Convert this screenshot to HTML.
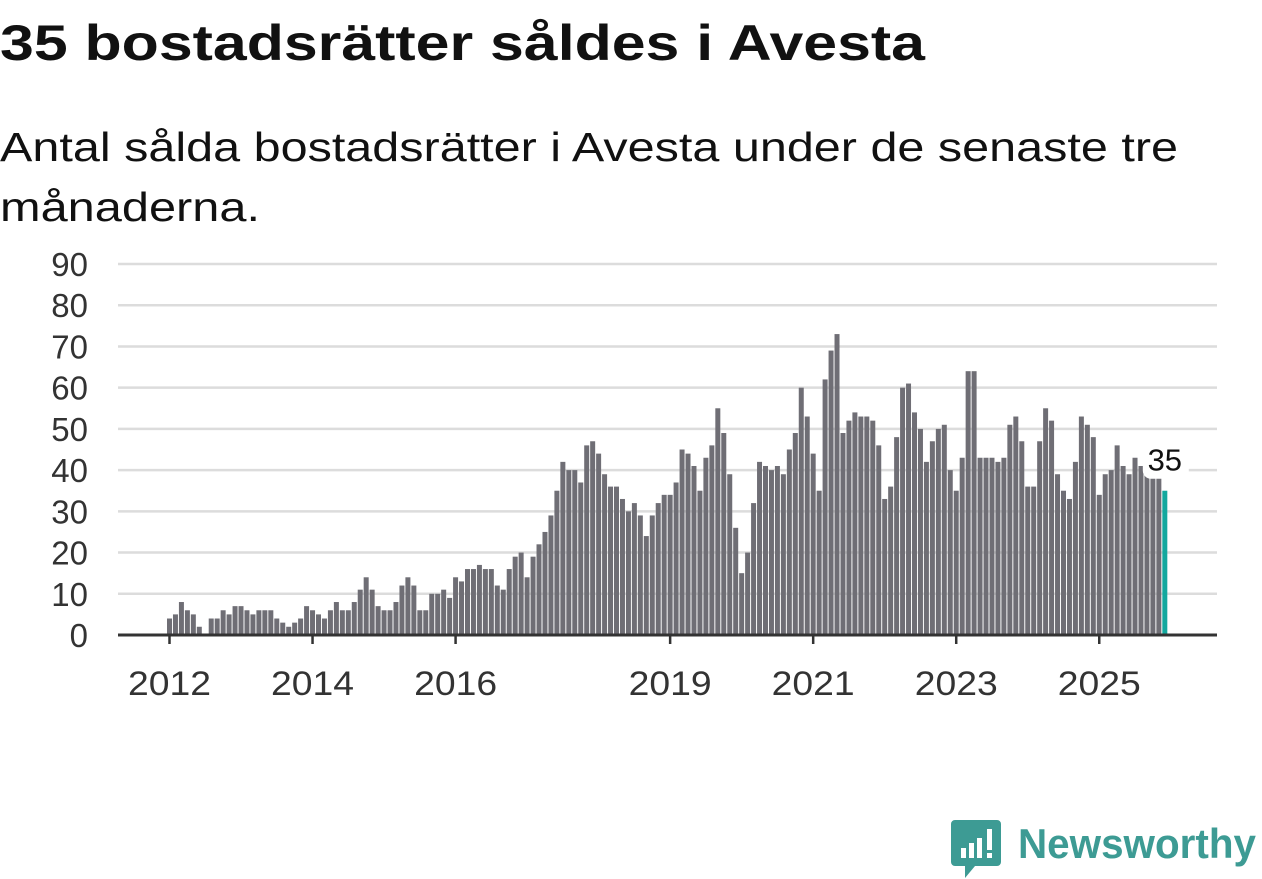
<!DOCTYPE html>
<html><head><meta charset="utf-8"><style>
html,body{margin:0;padding:0;background:#fff;}
svg{display:block;font-family:"Liberation Sans",sans-serif;}
</style></head><body>
<svg id="chart" width="1262" height="879" viewBox="0 0 1262 879">
<text x="0" y="60" font-size="50" font-weight="bold" fill="#111" textLength="925" lengthAdjust="spacingAndGlyphs">35 bostadsrätter såldes i Avesta</text>
<text x="0" y="161" font-size="41" fill="#111" textLength="1178" lengthAdjust="spacingAndGlyphs">Antal sålda bostadsrätter i Avesta under de senaste tre</text>
<text x="0" y="221" font-size="41" fill="#111" textLength="260" lengthAdjust="spacingAndGlyphs">månaderna.</text>
<g id="grid"></g>
<g id="bars"></g>
<g id="axis"></g>
<g>
<path d="M955 820 h42 a4 4 0 0 1 4 4 v38 a4 4 0 0 1 -4 4 h-22 l-10 12 v-12 h-10 a4 4 0 0 1 -4 -4 v-38 a4 4 0 0 1 4 -4z" fill="#3d9b94"/>
<rect x="961" y="848" width="5" height="10" fill="#fff"/><rect x="969" y="843" width="5" height="15" fill="#fff"/><rect x="977" y="838" width="5" height="20" fill="#fff"/><rect x="987" y="829" width="5" height="21" fill="#fff"/><rect x="987" y="853" width="5" height="5" fill="#fff"/>
<text x="1018" y="858" font-size="42" font-weight="bold" fill="#3d9b94" textLength="238" lengthAdjust="spacingAndGlyphs">Newsworthy</text>
</g>
</svg>
<script>
const years = [2012,2013,2014,2015,2016,2017,2018,2019,2020,2021,2022,2023,2024,2025];
const values = [
4,5,8,6,5,2,0,4,4,6,5,7,
7,6,5,6,6,6,4,3,2,3,4,7,
6,5,4,6,8,6,6,8,11,14,11,7,
6,6,8,12,14,12,6,6,10,10,11,9,
14,13,16,16,17,16,16,12,11,16,19,20,
14,19,22,25,29,35,42,40,40,37,46,47,
44,39,36,36,33,30,32,29,24,29,32,34,
34,37,45,44,41,35,43,46,55,49,39,26,
15,20,32,42,41,40,41,39,45,49,60,53,
44,35,62,69,73,49,52,54,53,53,52,46,
33,36,48,60,61,54,50,42,47,50,51,40,
35,43,64,64,43,43,43,42,43,51,53,47,
36,36,47,55,52,39,35,33,42,53,51,48,
34,39,40,46,41,39,43,41,39,38,38,35];
const yTicks = [0,10,20,30,40,50,60,70,80,90];
const xTickYears = [2012,2014,2016,2019,2021,2023,2025];

const NS='http://www.w3.org/2000/svg';
const y0=635, yPerUnit=(635-264)/90;
const x0=169.5, step=5.96;
function yScale(v){return y0 - v*yPerUnit;}
function xScale(i){return x0 + i*step;}
function xYear(yr){return xScale((yr-years[0])*12);}
function mk(tag,attrs,parent){const e=document.createElementNS(NS,tag);for(const k in attrs)e.setAttribute(k,attrs[k]);parent.appendChild(e);return e;}
const grid=document.getElementById('grid'), bars=document.getElementById('bars'), axis=document.getElementById('axis');
yTicks.forEach(t=>{
  if(t>0){const l=mk('line',{x1:118,x2:1217,y1:yScale(t),y2:yScale(t),stroke:'#dcdcdc','stroke-width':2.5},grid);
  
  }
  const tx=mk('text',{x:88,y:yScale(t)+12,'font-size':33,fill:'#333','text-anchor':'end'},grid);
  tx.textContent=t;
  
  
});
values.forEach((v,i)=>{
  const last=i===values.length-1;
  const r=mk('rect',{x:xScale(i)-2.5,y:yScale(v),width:5,height:v*yPerUnit,fill:last?'#13a89e':'#6f6e75'},bars);
  
  
});
const bl=mk('line',{x1:118,x2:1217,y1:y0,y2:y0,stroke:'#333','stroke-width':3},axis);


xTickYears.forEach(yr=>{
  const x=xYear(yr);
  const tk=mk('line',{x1:x,x2:x,y1:y0,y2:y0+9,stroke:'#333','stroke-width':2.5},axis);
  
  
  const tx=mk('text',{x:x,y:695,'font-size':34,fill:'#333','text-anchor':'middle',textLength:83,lengthAdjust:'spacingAndGlyphs'},axis);
  tx.textContent=yr;
  
  
});
const li=values.length-1, lx=xScale(li), ly=yScale(values[li]);
const bg=mk('rect',{x:lx-22,y:ly-48,width:46,height:36,rx:8,fill:'#fff'},axis);


const lt=mk('text',{x:lx,y:ly-20,'font-size':31,fill:'#111','text-anchor':'middle'},axis);
lt.textContent=values[li];


</script>
</body></html>
